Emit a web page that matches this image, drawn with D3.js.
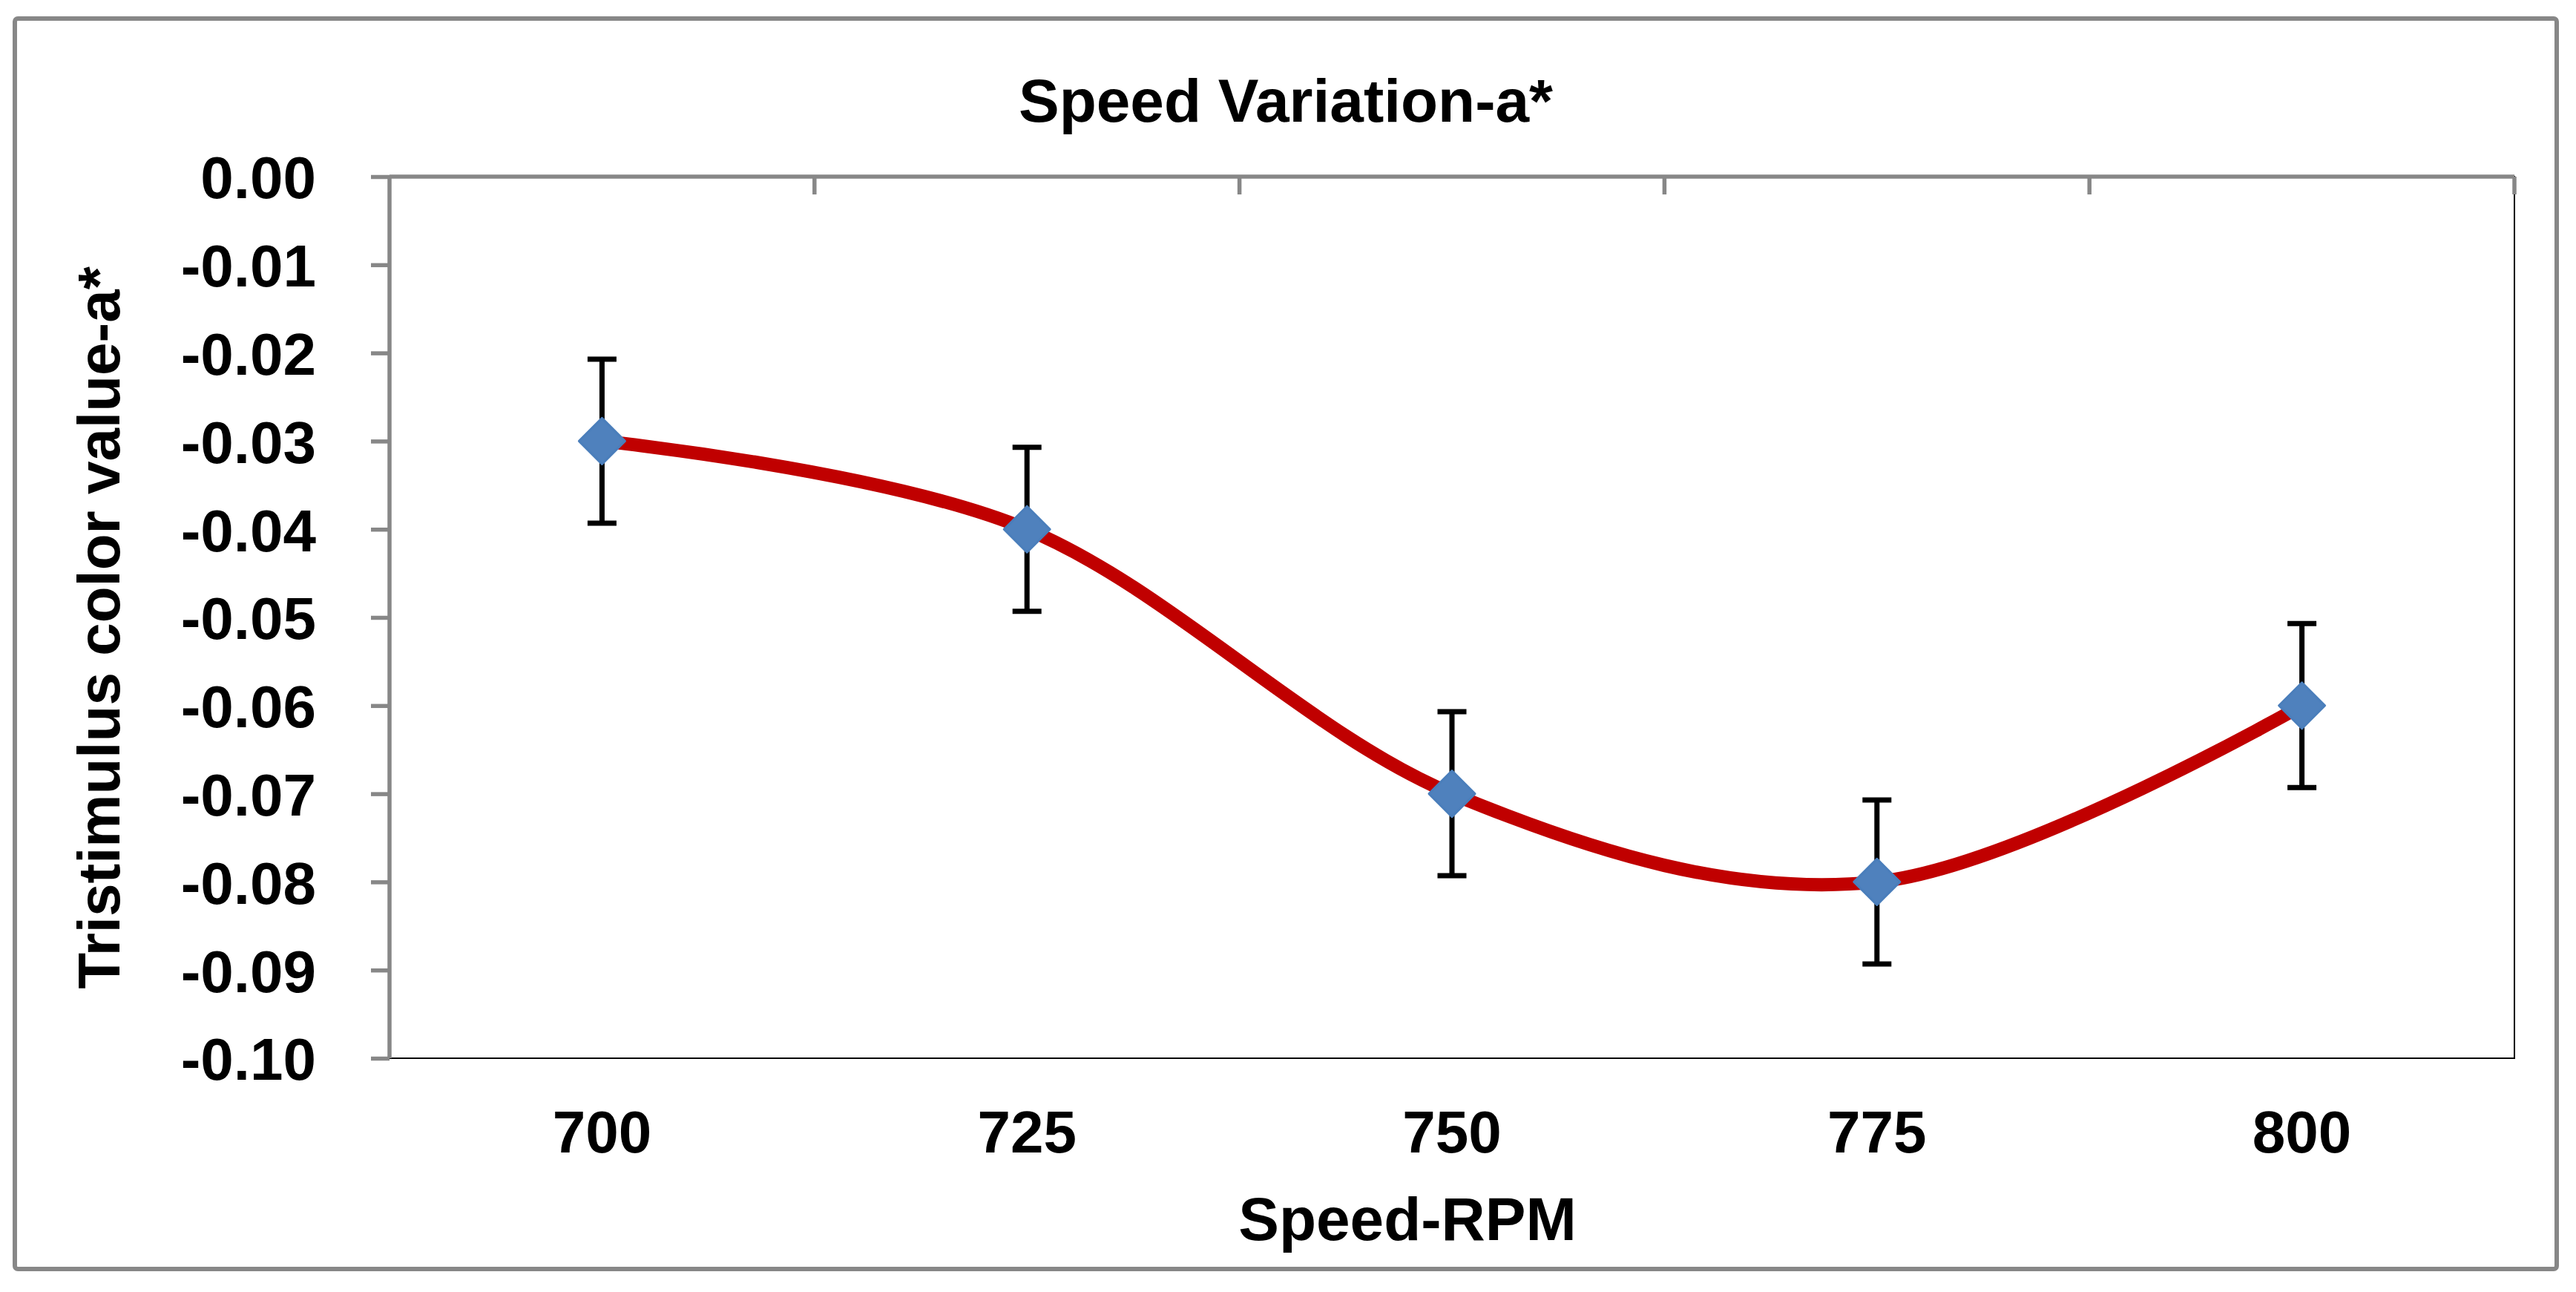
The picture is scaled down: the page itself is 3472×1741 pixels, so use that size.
<!DOCTYPE html>
<html>
<head>
<meta charset="utf-8">
<script src="https://cdn.jsdelivr.net/npm/d3@7"></script>
<style>
  html, body { margin: 0; padding: 0; background: #ffffff; }
  svg { display: block; }
  text { font-family: "Liberation Sans", Arial, "DejaVu Sans", sans-serif; font-weight: bold; fill: #000; }
</style>
</head>
<body>
<script>
// ---- data ----
const categories = ["700", "725", "750", "775", "800"];
const values = [-0.03, -0.04, -0.07, -0.08, -0.06];
const errors = [0.0093, 0.0093, 0.0093, 0.0093, 0.0093];
const yTicks = [0.00, -0.01, -0.02, -0.03, -0.04, -0.05, -0.06, -0.07, -0.08, -0.09, -0.10];
const yTickLabels = ["0.00", "-0.01", "-0.02", "-0.03", "-0.04", "-0.05", "-0.06", "-0.07", "-0.08", "-0.09", "-0.10"];
const chartTitle = "Speed Variation-a*";
const xTitle = "Speed-RPM";
const yTitle = "Tristimulus color value-a*";

// ---- layout ----
const W = 3472, H = 1741;
const plot = { left: 525, top: 238, right: 3389, bottom: 1426 };
const gray = "#878787";

const svg = d3.select("body").append("svg")
  .attr("width", W).attr("height", H)
  .attr("viewBox", `0 0 ${W} ${H}`);

svg.append("rect").attr("x", 0).attr("y", 0).attr("width", W).attr("height", H).attr("fill", "#fff");

// outer chart border
svg.append("rect")
  .attr("x", 20).attr("y", 25).attr("width", 3426).attr("height", 1685)
  .attr("rx", 4)
  .attr("fill", "none").attr("stroke", gray).attr("stroke-width", 6);

const x = d3.scaleBand().domain(categories).range([plot.left, plot.right]).padding(0);
const y = d3.scaleLinear().domain([-0.10, 0]).range([plot.bottom, plot.top]);
const cx = c => x(c) + x.bandwidth() / 2;

// plot area border (thin black)
svg.append("rect")
  .attr("x", plot.left).attr("y", plot.top)
  .attr("width", plot.right - plot.left).attr("height", plot.bottom - plot.top)
  .attr("fill", "none").attr("stroke", "#000").attr("stroke-width", 2);

// left value axis
const yAxis = d3.axisLeft(y)
  .tickValues(yTicks)
  .tickFormat((d, i) => yTickLabels[i])
  .tickSize(25)
  .tickPadding(74);
const gy = svg.append("g").attr("transform", `translate(${plot.left},0)`).call(yAxis);
gy.select(".domain").attr("stroke", gray).attr("stroke-width", 5.5).attr("d", `M0,${plot.top}V${plot.bottom}`);
gy.selectAll(".tick line").attr("stroke", gray).attr("stroke-width", 5.5);
gy.selectAll(".tick text")
  .attr("font-size", 80)
  .attr("font-weight", "bold")
  .attr("font-family", "'Liberation Sans', Arial, sans-serif")
  .attr("fill", "#000")
  .attr("dy", "0.36em");

// top category axis (crosses at 0)
svg.append("line")
  .attr("x1", plot.left).attr("x2", plot.right)
  .attr("y1", y(0)).attr("y2", y(0))
  .attr("stroke", gray).attr("stroke-width", 5.5);
const boundaries = categories.slice(1).map(c => x(c)).concat([plot.right]);
svg.append("g").selectAll("line").data(boundaries).join("line")
  .attr("x1", d => d).attr("x2", d => d)
  .attr("y1", y(0)).attr("y2", y(0) + 24)
  .attr("stroke", gray).attr("stroke-width", 5.5);

// category labels at the bottom
svg.append("g").selectAll("text").data(categories).join("text")
  .attr("x", d => cx(d))
  .attr("y", 1553)
  .attr("text-anchor", "middle")
  .attr("font-size", 80)
  .text(d => d);

// series line (smoothed)
const pts = categories.map((c, i) => ({ c, v: values[i], e: errors[i] }));
const line = d3.line()
  .x(d => cx(d.c))
  .y(d => y(d.v))
  .curve(d3.curveCardinal.tension(0));
svg.append("path")
  .datum(pts)
  .attr("d", line)
  .attr("fill", "none")
  .attr("stroke", "#C00000")
  .attr("stroke-width", 18)
  .attr("stroke-linejoin", "round");

// error bars
const eb = svg.append("g").attr("stroke", "#000").attr("stroke-width", 7).attr("fill", "none");
eb.selectAll("path").data(pts).join("path")
  .attr("d", d => {
    const px = cx(d.c), t = y(d.v + d.e), b = y(d.v - d.e), hw = 19.5;
    return `M${px},${t}V${b}M${px - hw},${t}H${px + hw}M${px - hw},${b}H${px + hw}`;
  });

// diamond markers
const r = 31;
svg.append("g").selectAll("path").data(pts).join("path")
  .attr("d", d => {
    const px = cx(d.c), py = y(d.v);
    return `M${px},${py - r}L${px + r},${py}L${px},${py + r}L${px - r},${py}Z`;
  })
  .attr("fill", "#4F81BD")
  .attr("stroke", "#4A7EBB")
  .attr("stroke-width", 3)
  .attr("stroke-linejoin", "round");

// titles
svg.append("text")
  .attr("x", 1733).attr("y", 164)
  .attr("text-anchor", "middle")
  .attr("font-size", 82)
  .text(chartTitle);

svg.append("text")
  .attr("x", 1897).attr("y", 1671)
  .attr("text-anchor", "middle")
  .attr("font-size", 82)
  .text(xTitle);

svg.append("text")
  .attr("transform", `translate(161,${(plot.top + plot.bottom) / 2 + 14}) rotate(-90)`)
  .attr("text-anchor", "middle")
  .attr("font-size", 80)
  .text(yTitle);
</script>
</body>
</html>
